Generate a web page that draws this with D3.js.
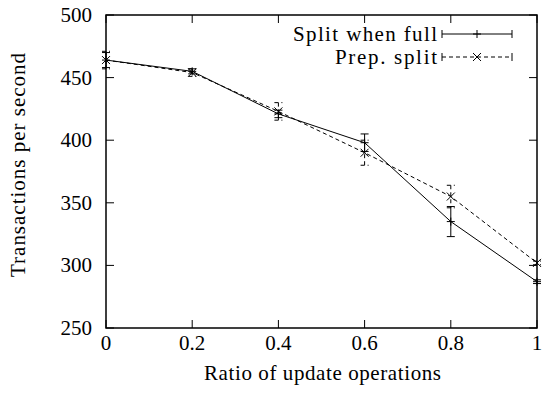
<!DOCTYPE html>
<html>
<head>
<meta charset="utf-8">
<script src="https://cdn.jsdelivr.net/npm/d3@7"></script>
<style>
  body { margin: 0; background: #fff; }
  text { font-family: "Liberation Serif", serif; fill: #000; }
</style>
</head>
<body>
<svg id="chart"></svg>
<script>
// Data
const ratios = [0, 0.2, 0.4, 0.6, 0.8, 1];
const splitFull = [464, 455, 421, 398, 335, 287];
const splitFullErr = [6, 2, 3, 7, 12, 1.5];
const prepSplit = [464, 454, 423, 390, 355, 302];
const prepSplitErr = [7, 3, 7, 10, 9, 1.5];
const xTicks = [0, 0.2, 0.4, 0.6, 0.8, 1];
const yTicks = [250, 300, 350, 400, 450, 500];

const width = 545, height = 394;
const plotL = 106, plotR = 537, plotT = 15, plotB = 328;
const fs = 21;

const svg = d3.select("#chart")
    .attr("width", width)
    .attr("height", height);

const x = d3.scaleLinear().domain([0, 1]).range([plotL, plotR]);
const y = d3.scaleLinear().domain([250, 500]).range([plotB, plotT]);

// ticks (inside, mirrored on all sides)
const tickLen = 8;
const g = svg.append("g").attr("stroke", "#000").attr("stroke-width", 1);
xTicks.forEach(t => {
    g.append("line").attr("x1", x(t)).attr("x2", x(t)).attr("y1", plotB).attr("y2", plotB - tickLen);
    g.append("line").attr("x1", x(t)).attr("x2", x(t)).attr("y1", plotT).attr("y2", plotT + tickLen);
});
yTicks.forEach(t => {
    g.append("line").attr("x1", plotL).attr("x2", plotL + tickLen).attr("y1", y(t)).attr("y2", y(t));
    g.append("line").attr("x1", plotR).attr("x2", plotR - tickLen).attr("y1", y(t)).attr("y2", y(t));
});

// tick labels
svg.selectAll(".xl").data(xTicks).enter().append("text")
    .attr("x", d => x(d)).attr("y", plotB + 22)
    .attr("text-anchor", "middle").attr("font-size", fs)
    .text(d => d3.format("")(d));
svg.selectAll(".yl").data(yTicks).enter().append("text")
    .attr("x", plotL - 14).attr("y", d => y(d) + 7)
    .attr("text-anchor", "end").attr("font-size", fs)
    .text(d => d);

// axis titles
svg.append("text")
    .attr("x", (plotL + plotR) / 2 + 1).attr("y", 380)
    .attr("text-anchor", "middle").attr("font-size", fs)
    .attr("textLength", 237).attr("lengthAdjust", "spacing")
    .text("Ratio of update operations");
svg.append("text")
    .attr("transform", `translate(25,165) rotate(-90)`)
    .attr("text-anchor", "middle").attr("font-size", fs)
    .attr("textLength", 224).attr("lengthAdjust", "spacing")
    .text("Transactions per second");

const line = d3.line().x(d => x(d[0])).y(d => y(d[1]));
const cap = 4, ms = 4;

function drawSeries(vals, errs, dash, marker) {
    const pts = ratios.map((r, i) => [r, vals[i], errs[i]]);
    const s = svg.append("g").attr("stroke", "#000").attr("stroke-width", 1).attr("fill", "none");
    if (dash) s.attr("stroke-dasharray", dash);
    s.append("path").attr("d", line(pts));
    pts.forEach(p => {
        const px = x(p[0]), y1 = y(p[1] + p[2]), y2 = y(p[1] - p[2]);
        s.append("line").attr("x1", px).attr("x2", px).attr("y1", y1).attr("y2", y2);
        s.append("line").attr("x1", px - cap).attr("x2", px + cap).attr("y1", y1).attr("y2", y1);
        s.append("line").attr("x1", px - cap).attr("x2", px + cap).attr("y1", y2).attr("y2", y2);
        drawMarker(px, y(p[1]), marker);
    });
}

function drawMarker(px, py, marker) {
    const m = svg.append("g").attr("stroke", "#000").attr("stroke-width", 1);
    if (marker === "plus") {
        m.append("line").attr("x1", px - ms).attr("x2", px + ms).attr("y1", py).attr("y2", py);
        m.append("line").attr("x1", px).attr("x2", px).attr("y1", py - ms).attr("y2", py + ms);
    } else {
        m.append("line").attr("x1", px - ms).attr("x2", px + ms).attr("y1", py - ms).attr("y2", py + ms);
        m.append("line").attr("x1", px - ms).attr("x2", px + ms).attr("y1", py + ms).attr("y2", py - ms);
    }
}

drawSeries(splitFull, splitFullErr, null, "plus");
drawSeries(prepSplit, prepSplitErr, "4,3", "cross");

// legend
const legend = [
    {name: "Split when full", dash: null, marker: "plus", yy: 34, len: 144},
    {name: "Prep. split", dash: "4,3", marker: "cross", yy: 57, len: 102}
];
legend.forEach(l => {
    svg.append("text").attr("x", 437).attr("y", l.yy + 7)
        .attr("text-anchor", "end").attr("font-size", fs)
        .attr("textLength", l.len).attr("lengthAdjust", "spacing")
        .text(l.name);
    const lg = svg.append("g").attr("stroke", "#000").attr("stroke-width", 1);
    const ln = lg.append("line").attr("x1", 442).attr("x2", 512).attr("y1", l.yy).attr("y2", l.yy);
    if (l.dash) ln.attr("stroke-dasharray", l.dash);
    lg.append("line").attr("x1", 442).attr("x2", 442).attr("y1", l.yy - cap).attr("y2", l.yy + cap);
    lg.append("line").attr("x1", 512).attr("x2", 512).attr("y1", l.yy - cap).attr("y2", l.yy + cap);
    drawMarker(477, l.yy, l.marker);
});

// frame
svg.append("rect")
    .attr("x", plotL).attr("y", plotT)
    .attr("width", plotR - plotL).attr("height", plotB - plotT)
    .attr("fill", "none").attr("stroke", "#000").attr("stroke-width", 1.5);
</script>
</body>
</html>
